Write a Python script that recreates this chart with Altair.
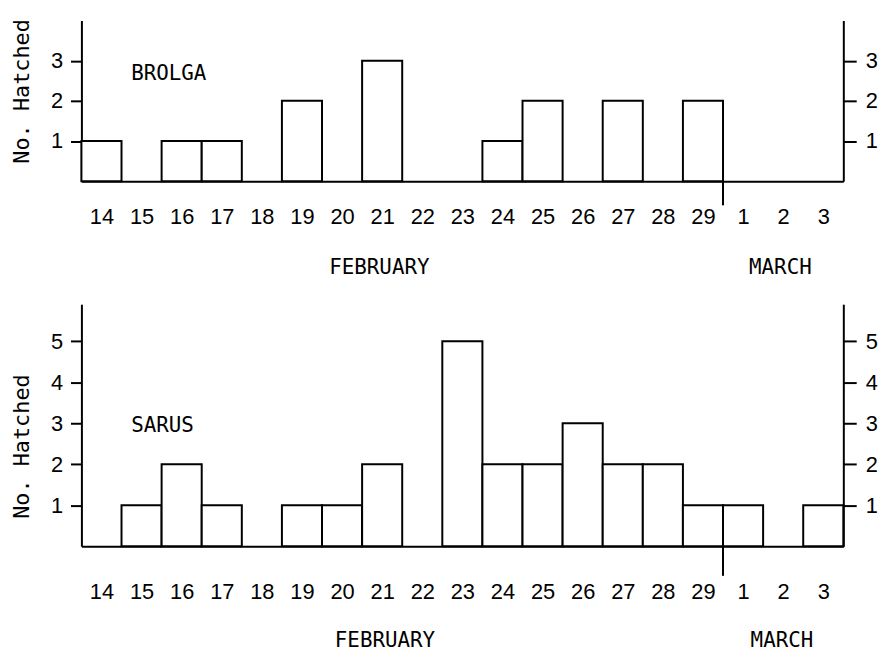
import json
import altair as alt
import pandas as pd

# ---- data ----
days = ["14", "15", "16", "17", "18", "19", "20", "21", "22", "23", "24",
        "25", "26", "27", "28", "29", "1", "2", "3"]
brolga = [1, 0, 1, 1, 0, 2, 0, 3, 0, 0, 1, 2, 0, 2, 0, 2, 0, 0, 0]
sarus = [0, 1, 2, 1, 0, 1, 1, 2, 0, 5, 2, 2, 3, 2, 2, 1, 1, 0, 1]
months = ["FEBRUARY", "MARCH"]
species = ["BROLGA", "SARUS"]
y_title = "No. Hatched"

NUM_FONT = "Liberation Sans Narrow, Liberation Sans, Arial"
TXT_FONT = "DejaVu Sans Mono"
W = 768
N = len(days)
label_expr = json.dumps(days) + "[floor(datum.value)]"


def panel(counts, name, ymax, height, ticks, label_pad, title_y,
          month_x, month_y, name_pos, rule_len):
    df = pd.DataFrame({"i": list(range(N)), "i2": list(range(1, N + 1)),
                       "n": counts, "day": days})
    df = df[df.n > 0]
    xs = alt.Scale(domain=[0, N], nice=False, zero=False)
    ys = alt.Scale(domain=[0, ymax], nice=False)
    xaxis = alt.Axis(values=[i + 0.5 for i in range(N)], labelExpr=label_expr,
                     ticks=False, tickSize=0, grid=False, title=None,
                     labelPadding=label_pad, labelFont=NUM_FONT,
                     labelFontSize=22, labelAngle=0, domainColor="black",
                     domainWidth=2, labelColor="black", labelBaseline="top")
    left_axis = alt.Axis(values=ticks, format="d", grid=False, title=y_title,
                         titleFont=TXT_FONT, titleFontSize=22,
                         titleFontWeight="normal", titleAngle=270,
                         titleX=-60, titleY=title_y, titleAlign="center",
                         titleBaseline="middle", titleColor="black",
                         labelFont=NUM_FONT, labelFontSize=22,
                         labelColor="black", labelPadding=8, tickSize=11,
                         tickWidth=2, tickColor="black", domainColor="black",
                         domainWidth=2)
    right_axis = alt.Axis(values=ticks, format="d", grid=False, title=None,
                          orient="right", labelFont=NUM_FONT, labelFontSize=22,
                          labelColor="black", labelPadding=9, tickSize=13,
                          tickWidth=2, tickColor="black", domainColor="black",
                          domainWidth=2)
    base = alt.Chart(df)
    bars = base.mark_rect(fill="white", stroke="black", strokeWidth=2).encode(
        x=alt.X("i:Q", scale=xs, axis=xaxis),
        x2="i2:Q",
        y=alt.Y("n:Q", scale=ys, axis=left_axis),
        y2=alt.datum(0),
    )
    right = base.mark_rect(opacity=0).encode(
        x=alt.X("i:Q", scale=xs, axis=xaxis),
        x2="i2:Q",
        y=alt.Y("n:Q", scale=ys, axis=right_axis),
        y2=alt.datum(0),
    )
    rule = alt.Chart().mark_rule(color="black", strokeWidth=2).encode(
        x=alt.datum(days.index("1")),
        y=alt.YDatum(0, axis=None),
        y2=alt.datum(-rule_len))
    texts = []
    for m, mx, my in zip(months, month_x, month_y):
        texts.append(alt.Chart().mark_text(
            font=TXT_FONT, fontSize=21, color="black", align="center",
            baseline="middle").encode(x=alt.datum(mx),
                                      y=alt.YDatum(my, axis=None),
                                      text=alt.value(m)))
    lab = alt.Chart().mark_text(
        font=TXT_FONT, fontSize=21, color="black", align="left",
        baseline="middle").encode(x=alt.datum(name_pos[0]),
                                  y=alt.YDatum(name_pos[1], axis=None),
                                  text=alt.value(name))
    return alt.layer(bars, right, rule, lab, *texts).resolve_axis(
        y="independent").properties(width=W, height=height)


top = panel(brolga, species[0], 4.0, 162, [1, 2, 3], 26, 71,
            [7.43, 17.43], [-2.15, -2.15], (1.24, 2.67), 0.6)
bottom = panel(sarus, species[1], 5.9, 244, [1, 2, 3, 4, 5], 36, 143,
               [7.57, 17.47], [-2.3, -2.3], (1.24, 2.92), 0.72)

chart = alt.vconcat(top, bottom, spacing=124, bounds="flush").properties(
    padding={"left": 3, "top": 8, "right": 5, "bottom": 0},
    background="white",
).configure_view(stroke=None)

chart.save("out.html", embed_options={"renderer": "svg", "actions": False})
